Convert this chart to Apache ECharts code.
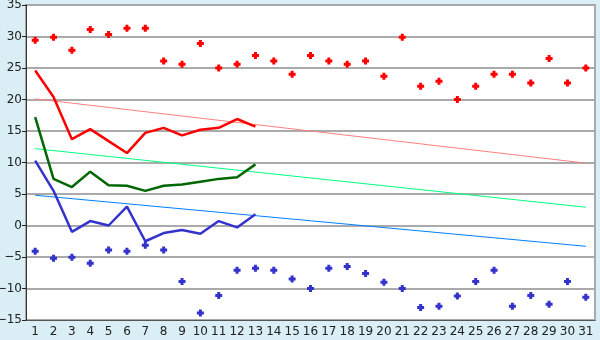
<!DOCTYPE html>
<html><head><meta charset="utf-8">
<script src="https://cdn.jsdelivr.net/npm/echarts@6/dist/echarts.min.js"></script>
<style>html,body{margin:0;padding:0;background:#daeef5;}#c{width:600px;height:340px;}</style>
</head><body><div id="c"></div>
<script>
const categories = ['1','2','3','4','5','6','7','8','9','10','11','12','13','14','15','16','17','18','19','20','21','22','23','24','25','26','27','28','29','30','31'];
const redPoints = [29.4,29.9,27.8,31.1,30.3,31.3,31.3,26.1,25.6,28.9,25.0,25.6,27.0,26.1,24.0,27.0,26.1,25.6,26.1,23.7,29.9,22.1,22.9,20.0,22.1,24.0,24.0,22.6,26.5,22.6,25.0];
const bluePoints = [-4.1,-5.2,-5.05,-6.0,-3.9,-4.1,-3.15,-3.9,-8.9,-13.9,-11.1,-7.1,-6.8,-7.1,-8.5,-10.0,-6.8,-6.5,-7.6,-9.0,-10.0,-13.0,-12.8,-11.2,-8.9,-7.1,-12.8,-11.1,-12.5,-8.9,-11.4];
const redLine = [24.6,20.4,13.7,15.3,13.4,11.5,14.7,15.5,14.3,15.2,15.5,16.9,15.7];
const greenLine = [17.2,7.4,6.1,8.55,6.4,6.3,5.5,6.3,6.5,6.95,7.4,7.65,9.7];
const blueLine = [10.3,5.5,-1.0,0.7,0.0,3.0,-2.5,-1.2,-0.7,-1.3,0.7,-0.3,1.8];
const pinkTrend = [['1',20.1],['31',9.9]];
const greenTrend = [['1',12.2],['31',2.9]];
const blueTrend = [['1',4.8],['31',-3.3]];
const yTicks = {min:-15, max:35, interval:5};

const plus = 'path://M2,0H5V2H7V5H5V7H2V5H0V2H2Z';
const chart = echarts.init(document.getElementById('c'), null, {renderer:'canvas'});
function lineS(data, color, w){
  return {type:'line', data:data, symbol:'none', lineStyle:{color:color, width:w}, itemStyle:{color:color}, animation:false, z:3};
}
chart.setOption({
  backgroundColor:'#daeef5',
  animation:false,
  grid:{left:26, right:5, top:5, bottom:20, containLabel:false, outerBoundsMode:'none', show:true, backgroundColor:'#ffffff', borderColor:'#aaaaaa', borderWidth:2},
  xAxis:{type:'category', data:categories, boundaryGap:true,
    axisLine:{onZero:false, lineStyle:{color:'#555', width:1}},
    axisTick:{alignWithLabel:true, length:5, lineStyle:{color:'#222'}},
    axisLabel:{color:'#222', fontSize:12, fontFamily:'DejaVu Sans', margin:6, interval:0},
    splitLine:{show:false}},
  yAxis:{type:'value', min:yTicks.min, max:yTicks.max, interval:yTicks.interval,
    axisLine:{show:true, lineStyle:{color:'#333'}},
    axisTick:{show:true, length:4, lineStyle:{color:'#222'}},
    axisLabel:{color:'#222', fontSize:12, fontFamily:'DejaVu Sans', margin:4,
      formatter:v=>String(v).replace('-','\u2212')},
    splitLine:{lineStyle:{color:'#aaaaaa', width:2}}},
  series:[
    lineS(pinkTrend,'#ff8080',1),
    lineS(greenTrend,'#00ff80',1),
    lineS(blueTrend,'#0080ff',1),
    lineS(redLine,'#ff0000',2.5),
    lineS(greenLine,'#006600',2.5),
    lineS(blueLine,'#3333cc',2.5),
    {type:'scatter', data:redPoints, symbol:plus, symbolSize:7, itemStyle:{color:'#ff0000', opacity:1}, z:4},
    {type:'scatter', data:bluePoints, symbol:plus, symbolSize:7, itemStyle:{color:'#3333cc', opacity:1}, z:4}
  ]
});
</script></body></html>
